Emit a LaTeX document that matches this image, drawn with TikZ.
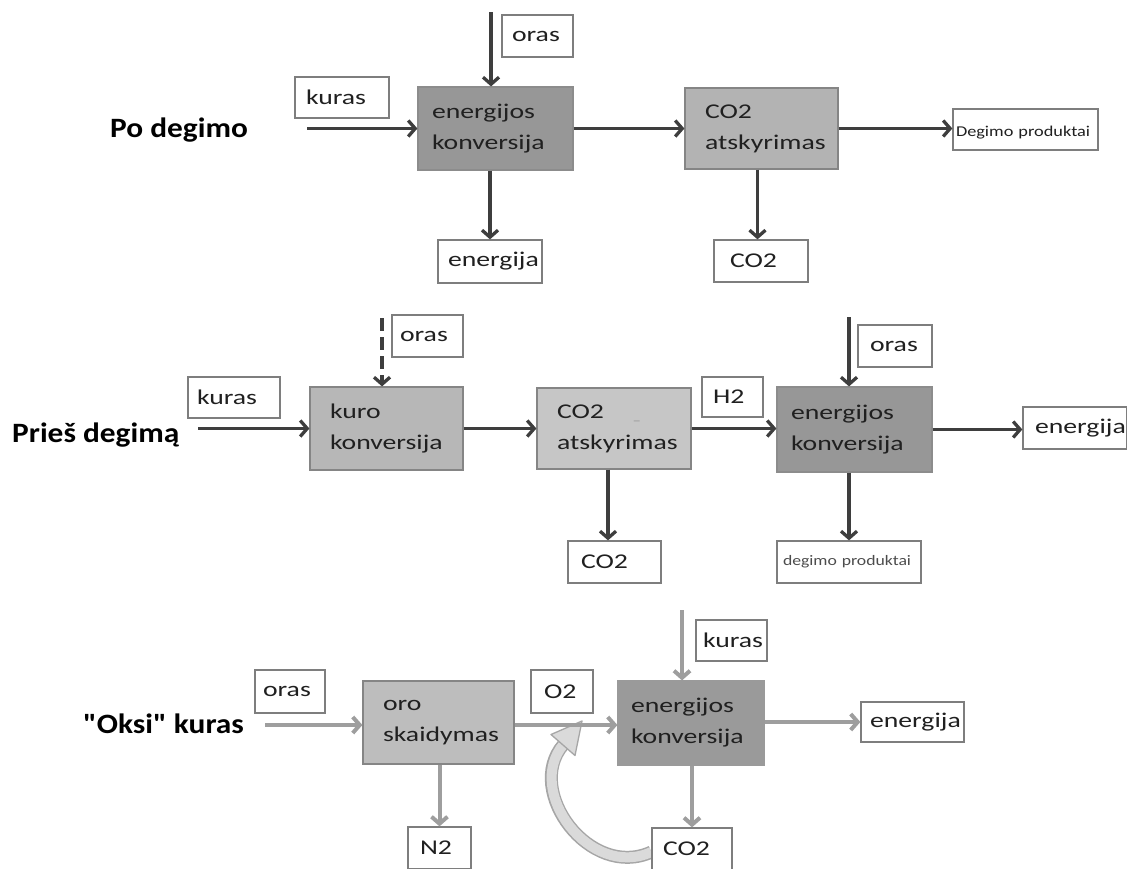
\documentclass[tikz,border=0pt]{standalone}
\usepackage{fontspec}
\setmainfont{Carlito}[FakeStretch=1.32]
\newfontfamily\labfont{Carlito}[FakeStretch=1.12]
\newfontfamily\smfont{Carlito}[FakeStretch=1.22]
\usetikzlibrary{arrows.meta,calc}
\definecolor{dk}{HTML}{979797}
\definecolor{mida}{HTML}{B3B3B3}
\definecolor{midb}{HTML}{B7B7B7}
\definecolor{midc}{HTML}{C6C6C6}
\definecolor{midd}{HTML}{BDBDBD}
\definecolor{dke}{HTML}{9A9A9A}
\definecolor{dkf}{HTML}{8C8C8C}
\definecolor{pedge}{HTML}{858585}
\definecolor{ledge}{HTML}{7E7E7E}
\definecolor{arrc}{HTML}{3E3E3E}
\definecolor{arrl}{HTML}{9E9E9E}
\definecolor{txt}{HTML}{202020}
\definecolor{rcfill}{HTML}{DADADA}
\definecolor{rcedge}{HTML}{A6A6A6}
\pgfdeclarelayer{bg}
\pgfsetlayers{bg,main}
\tikzset{
  x=1pt, y=-1pt,
  bt/.style={font=\fontsize{21}{31}\selectfont, text=txt},
  procL/.style={bt, draw=pedge, line width=1.2pt, align=left, inner xsep=20pt, inner ysep=0pt},
  procD/.style={bt, draw=dkf, line width=1.2pt, align=left, inner xsep=14pt, inner ysep=0pt},
  lbl/.style={bt, draw=ledge, fill=white, line width=1.3pt, align=left, inner xsep=10pt, inner ysep=0pt},
  arr/.style={draw=arrc, line width=3.3pt, -{Straight Barb[length=7pt,width=16pt,line width=3.3pt]}},
  arrg/.style={draw=arrl, line width=4pt, -{Straight Barb[length=7pt,width=16pt,line width=4pt]}},
  head/.style={font=\labfont\bfseries\fontsize{28}{28}\selectfont, text=black, inner sep=0pt, anchor=base west},
}
\begin{document}
\begin{tikzpicture}
\useasboundingbox (0,0) rectangle (1127,868);
\begin{pgfonlayer}{bg}
\fill[white] (0,0) rectangle (1127,868);
\end{pgfonlayer}

% ---------- Po degimo ----------
\node[head] (lab1) at (110,137) {Po degimo};
\node[lbl, inner xsep=11pt, minimum width=94pt, minimum height=41pt, text width=72pt] (k1) at (342,97.5) {kuras};
\node[procD, fill=dk, minimum width=155pt, minimum height=83pt, text width=127pt] (e1) at (495.5,128.5) {energijos\\konversija};
\node[lbl, minimum width=71pt, minimum height=42pt, text width=51pt] (o1) at (537.5,36) {oras};
\node[lbl, minimum width=104pt, minimum height=43pt, text width=84pt] (en1) at (490,261.5) {energija};
\node[procL, fill=mida, minimum width=153pt, minimum height=81pt, text width=113pt] (c1) at (761.5,128.5) {CO2\\atskyrimas};
\node[lbl, inner xsep=3pt, minimum width=145pt, minimum height=41pt, text width=139pt, font=\smfont\fontsize{15}{16}\selectfont, text height=16pt, text depth=3pt] (d1) at (1025.5,129.5) {Degimo produktai};
\node[lbl, inner xsep=16pt, minimum width=94pt, minimum height=42pt, text width=62pt] (co1) at (761,261) {CO2};

\coordinate (in1) at (307,128.5);
\coordinate (top1) at (491,12);
\draw[arr] (in1) -- (e1.west);
\draw[arr] (top1) -- (top1 |- e1.north);
\draw[arr] (e1.south -| en1.north) -- (en1.north);
\draw[arr] (e1.east) -- (c1.west);
\draw[arr] (c1.east) -- (c1.east -| d1.west);
\draw[arr] ([xshift=-4pt]c1.south) -- ([xshift=-4pt]c1.south |- co1.north);

% ---------- Pries degima ----------
\node[head] (lab2) at (12,442) {Prieš degimą};
\node[lbl, inner xsep=9pt, minimum width=92pt, minimum height=41pt, text width=74pt] (k2) at (234,397.5) {kuras};
\node[procL, fill=midb, minimum width=153pt, minimum height=83pt, text width=113pt] (kk) at (386.5,428.5) {kuro\\konversija};
\node[lbl, inner xsep=8pt, minimum width=71pt, minimum height=42pt, text width=55pt] (o2) at (427.5,336) {oras};
\node[procL, fill=midc, minimum width=154pt, minimum height=81pt, text width=114pt] (c2) at (614,428.5) {CO2\hspace{30pt}\raisebox{-2pt}{\fontsize{9}{9}\selectfont\color{gray}\_}\\atskyrimas};
\node[lbl, inner xsep=11pt, minimum width=61pt, minimum height=40pt, text width=39pt] (h2) at (732.5,397) {H2};
\node[procD, fill=dk, minimum width=155pt, minimum height=85pt, text width=127pt] (e2) at (854.5,429.5) {energijos\\konversija};
\node[lbl, inner xsep=12pt, minimum width=74pt, minimum height=42pt, text width=50pt] (o3) at (895,346) {oras};
\node[lbl, inner xsep=12pt, minimum width=104pt, minimum height=42pt, text width=80pt] (en2) at (1075,428) {energija};
\node[lbl, inner xsep=13pt, minimum width=93pt, minimum height=42pt, text width=67pt] (co2) at (614.5,562) {CO2};
\node[lbl, inner xsep=6pt, minimum width=144pt, minimum height=42pt, text width=132pt, font=\smfont\fontsize{14.5}{16}\selectfont, text=black!70] (dp2) at (849,562) {degimo produktai};

\coordinate (in2) at (198,428.5);
\coordinate (top2) at (382,318);
\coordinate (top3) at (849,317);
\draw[arr] (in2) -- (kk.west);
\draw[arr, dash pattern=on 13pt off 6pt] (top2) -- (top2 |- kk.north);
\draw[arr] (kk.east) -- (c2.west);
\draw[arr] (c2.east) -- (c2.east -| e2.west);
\draw[arr] (top3) -- (top3 |- e2.north);
\draw[arr] (e2.east) -- (e2.east -| en2.west);
\draw[arr] ([xshift=-6pt]c2.south) -- ([xshift=-6pt]c2.south |- co2.north);
\draw[arr] (e2.south -| dp2.north) -- (dp2.north);

% ---------- Oksi kuras ----------
\node[head] (lab3) at (83,733) {"Oksi" kuras};
\node[lbl, inner xsep=8pt, minimum width=70pt, minimum height=43pt, text width=54pt] (o4) at (290,691.5) {oras};
\node[procL, fill=midd, minimum width=151pt, minimum height=83pt, text width=111pt] (os) at (438.5,722.5) {oro\\skaidymas};
\node[lbl, inner xsep=13pt, minimum width=62pt, minimum height=43pt, text width=36pt] (ox) at (562,691.5) {O2};
\node[procD, fill=dke, draw=dke, inner xsep=13pt, minimum width=146pt, minimum height=84pt, text width=120pt] (e3) at (691,723) {energijos\\konversija};
\node[lbl, inner xsep=7pt, minimum width=71pt, minimum height=41pt, text width=57pt] (k3) at (731.5,640.5) {kuras};
\node[lbl, inner xsep=9pt, minimum width=103pt, minimum height=40pt, text width=85pt] (en3) at (912.5,722) {energija};
\node[lbl, inner xsep=11pt, minimum width=80pt, minimum height=42pt, text width=58pt] (co3) at (692,849) {CO2};
\node[lbl, inner xsep=12pt, minimum width=63pt, minimum height=42pt, text width=39pt] (n2) at (439.5,848) {N2};

\coordinate (in3) at (265,725);
\coordinate (top4) at (682,610);
\draw[arrg] (in3) -- (in3 -| os.west);
\draw[arrg] (os.east |- in3) -- (in3 -| e3.west);
\draw[arrg] (top4) -- (top4 |- e3.north);
\draw[arrg] (e3.east |- en3.west) -- (en3.west);
\draw[arrg] (e3.south -| co3.north) -- (co3.north);
\draw[arrg] (os.south -| n2.north) -- (n2.north);

% curved return arrow CO2 -> O2 line
\coordinate (rtip) at (582,721);
\begin{pgfonlayer}{bg}
\draw[line width=13pt, draw=rcedge] ([yshift=-3pt]co3.west) .. controls (590,880) and (524,791) .. (563,745);
\draw[line width=10pt, draw=rcfill] ([yshift=-3pt]co3.west) .. controls (590,880) and (524,791) .. (563.6,744.3);
\filldraw[fill=rcfill, draw=rcedge, line width=1.3pt, line join=round] (rtip) -- (575,755.5) -- (551,734.5) -- cycle;
\end{pgfonlayer}
\end{tikzpicture}
\end{document}
